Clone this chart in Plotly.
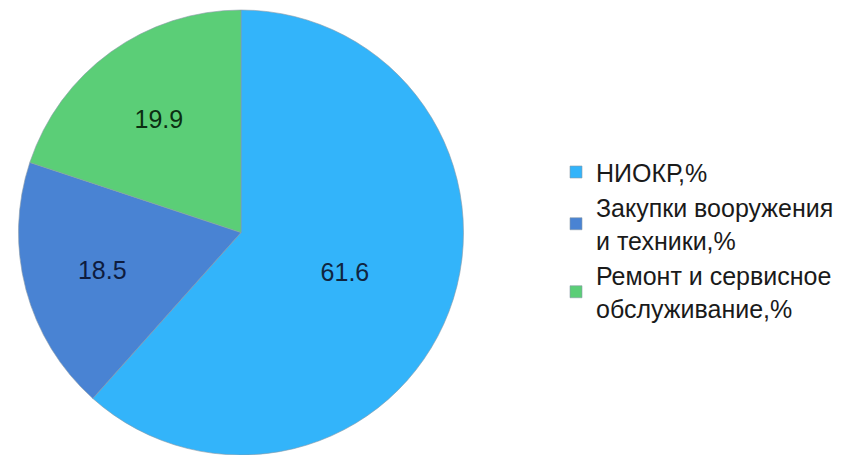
import plotly.graph_objects as go

labels = ["НИОКР,%", "Закупки вооружения<br>и техники,%", "Ремонт и сервисное<br>обслуживание,%"]
values = [61.6, 18.5, 19.9]
colors = ["#33B4FA", "#4983D3", "#5BCE77"]
text_colors = ["#10253f", "#0e1c3e", "#0c2e12"]

fig = go.Figure(go.Pie(
    labels=labels,
    values=values,
    sort=False,
    direction="clockwise",
    rotation=0,
    textinfo="value",
    texttemplate="%{value}",
    textposition="inside",
    insidetextorientation="horizontal",
    textfont=dict(family="Liberation Sans, Arial", size=25, color=text_colors),
    marker=dict(colors=colors, line=dict(color="#8a9aa8", width=0.6)),
    domain=dict(x=[15/850, 467/850], y=[0, 1 - 10/455]),
    hoverinfo="label+value",
))

fig.update_layout(
    width=850, height=455,
    margin=dict(l=0, r=0, t=0, b=0),
    paper_bgcolor="white",
    plot_bgcolor="white",
    showlegend=True,
    legend=dict(
        x=556/850, xanchor="left",
        y=0.472, yanchor="middle",
        font=dict(family="Liberation Sans, Arial", size=25, color="#1a1a1a"),
        itemwidth=30,
        tracegroupgap=0,
        bgcolor="rgba(0,0,0,0)",
    ),
)

fig.write_html("out.html")
